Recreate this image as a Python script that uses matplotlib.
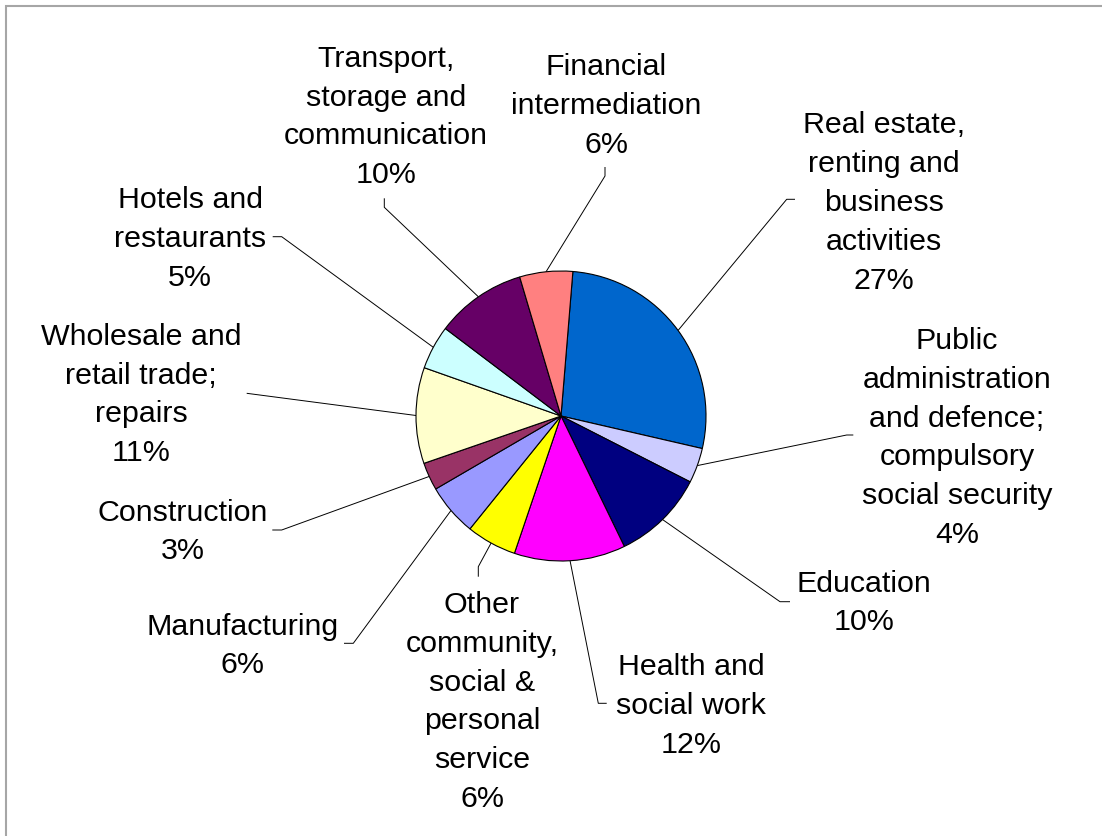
import numpy as np
import matplotlib
matplotlib.use("Agg")
import matplotlib.pyplot as plt

plt.rcParams['font.family'] = ['Liberation Sans', 'DejaVu Sans']

# sectors, clockwise from the top
sectors = ['Real estate,\nrenting and\nbusiness\nactivities',
           'Public\nadministration\nand defence;\ncompulsory\nsocial security',
           'Education',
           'Health and\nsocial work',
           'Other\ncommunity,\nsocial &\npersonal\nservice',
           'Manufacturing',
           'Construction',
           'Wholesale and\nretail trade;\nrepairs',
           'Hotels and\nrestaurants',
           'Transport,\nstorage and\ncommunication',
           'Financial\nintermediation']
shares = [27.3, 3.9, 10.3, 12.4, 5.6, 5.8, 3.1, 10.7, 4.9, 10.1, 5.9]
colors = ['#0066CC', '#CCCCFF', '#000080', '#FF00FF', '#FFFF00', '#9999FF',
          '#993366', '#FFFFCC', '#CCFFFF', '#660066', '#FF8080']

W, H = 1102, 836

def px(x, y):
    # pixel position (top-left origin) -> data coords
    return x, H - y

# label block centres and leader line anchors, in pixels
label_pos = [(884, 203), (957, 438), (864, 603), (691, 706), (482, 702),
             (243, 646), (183, 532), (141, 395), (190, 239), (386, 117),
             (606, 106)]
anchors = [[(795, 199.3), (786.7, 199.3)],
           [(853.3, 435), (846.7, 435)],
           [(790, 601.7), (780, 601.7)],
           [(606.7, 703.3), (598.3, 703.3)],
           [(478.3, 576.7), (478.3, 566.7)],
           [(344, 643.3), (353.3, 643.3)],
           [(272.3, 530), (281.7, 530)],
           [(246.7, 393.3)],
           [(272.7, 236.7), (281.7, 236.7)],
           [(384.3, 198.3), (384.3, 207.3)],
           [(605, 167), (605, 176)]]

fig = plt.figure(figsize=(W / 100, H / 100), dpi=100)
ax = fig.add_axes([0, 0, 1, 1])

cx, cy = px(561, 416)
R = 145
wedges, _ = ax.pie(shares, colors=colors, startangle=85.3, counterclock=False,
                   center=(cx, cy), radius=R, frame=True,
                   wedgeprops=dict(edgecolor='black', linewidth=0.8))
ax.set_xlim(0, W)
ax.set_ylim(0, H)
ax.set_aspect('equal')
ax.axis('off')

for w, name, v, pos, anc in zip(wedges, sectors, shares, label_pos, anchors):
    mid = np.deg2rad((w.theta1 + w.theta2) / 2)
    ex, ey = cx + R * np.cos(mid), cy + R * np.sin(mid)
    pts = [px(*a) for a in anc] + [(ex, ey)]
    ax.plot([p[0] for p in pts], [p[1] for p in pts], color='black', lw=0.7,
            solid_capstyle='butt', zorder=0)
    tx, ty = px(*pos)
    ax.text(tx, ty, f"{name}\n{round(v)}%", ha='center', va='center',
            fontsize=21.9, linespacing=1.49, color='black')

# chart area border (top and left visible)
ax.plot([6, 6, W], [0, H - 6, H - 6], color='#A6A6A6', lw=1.5,
        solid_joinstyle='miter')

fig.savefig('out.png', dpi=100)
